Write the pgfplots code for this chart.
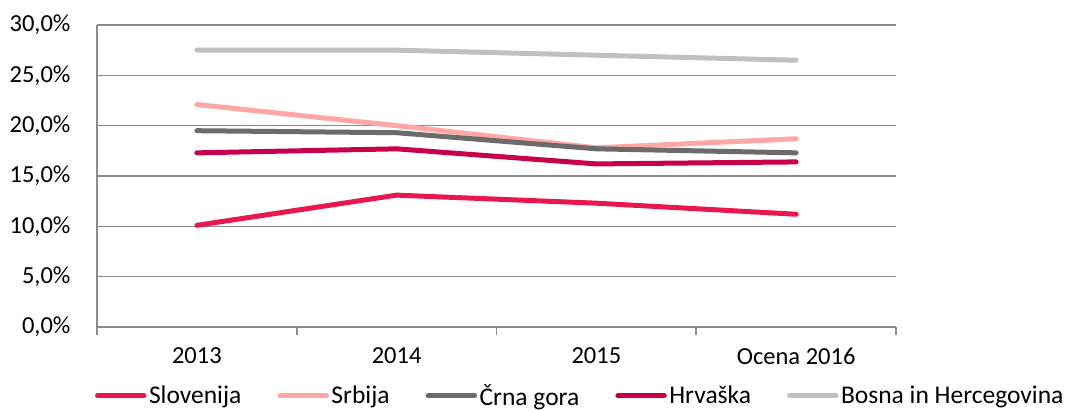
\documentclass[border=0pt]{standalone}
\usepackage{pgfplots}
\pgfplotsset{compat=1.18}
\usepackage{fontspec}
\setmainfont{Carlito}
\definecolor{slo}{HTML}{E8174F}
\definecolor{srb}{HTML}{FFA6A6}
\definecolor{cg}{HTML}{6B6B6B}
\definecolor{hr}{HTML}{C8004B}
\definecolor{bih}{HTML}{C0C0C0}
\definecolor{gridc}{HTML}{8C8C8C}
\begin{document}
\begin{tikzpicture}
\begin{axis}[
  scale only axis,
  width=799pt, height=302pt,
  xmin=-0.5, xmax=3.5, ymin=0, ymax=30,
  xtick={0,1,2,3},
  xticklabels={2013,2014,2015,Ocena 2016},
  minor xtick={-0.5,0.5,1.5,2.5,3.5},
  major tick length=0pt,
  minor tick length=8pt,
  tick align=outside,
  xtick pos=bottom,
  ytick={0,5,10,15,20,25,30},
  yticklabels={{0,0\%},{5,0\%},{10,0\%},{15,0\%},{20,0\%},{25,0\%},{30,0\%}},
  ymajorgrids,
  grid style={gridc, line width=1.6pt},
  minor tick style={gridc, line width=1.6pt},
  axis x line*=bottom,
  axis y line*=left,
  axis line style={gridc, line width=1.6pt},
  ticklabel style={font=\fontsize{24.5}{29}\selectfont, text=black},
  xticklabel style={yshift=-17pt},
  yticklabel style={xshift=-23pt},
  legend columns=5,
  legend style={draw=none, inner sep=0pt, outer sep=0pt,
    at={(-0.0025,-0.228)}, anchor=west, font=\fontsize{25.5}{30}\selectfont,
    nodes={inner sep=2.5pt},
    /tikz/every even column/.append style={column sep=33.5pt}},
  legend image code/.code={\draw[#1, line cap=round] (2.5pt,0pt) -- (49pt,0pt);},
  every axis plot/.append style={line width=5pt, line cap=round, line join=round},
]
\addplot[slo] coordinates {(0,10.1) (1,13.1) (2,12.3) (3,11.2)};
\addlegendentry{Slovenija}
\addplot[srb] coordinates {(0,22.1) (1,20.0) (2,17.8) (3,18.7)};
\addlegendentry{Srbija}
\addplot[cg] coordinates {(0,19.5) (1,19.3) (2,17.7) (3,17.3)};
\addlegendentry{Črna gora}
\addplot[hr] coordinates {(0,17.3) (1,17.7) (2,16.2) (3,16.4)};
\addlegendentry{Hrvaška}
\addplot[bih] coordinates {(0,27.5) (1,27.5) (2,27.0) (3,26.5)};
\addlegendentry{Bosna in Hercegovina}
\end{axis}
\pgfresetboundingbox
\path[use as bounding box] (-97pt,-83pt) rectangle (970pt,327pt);
\end{tikzpicture}
\end{document}
